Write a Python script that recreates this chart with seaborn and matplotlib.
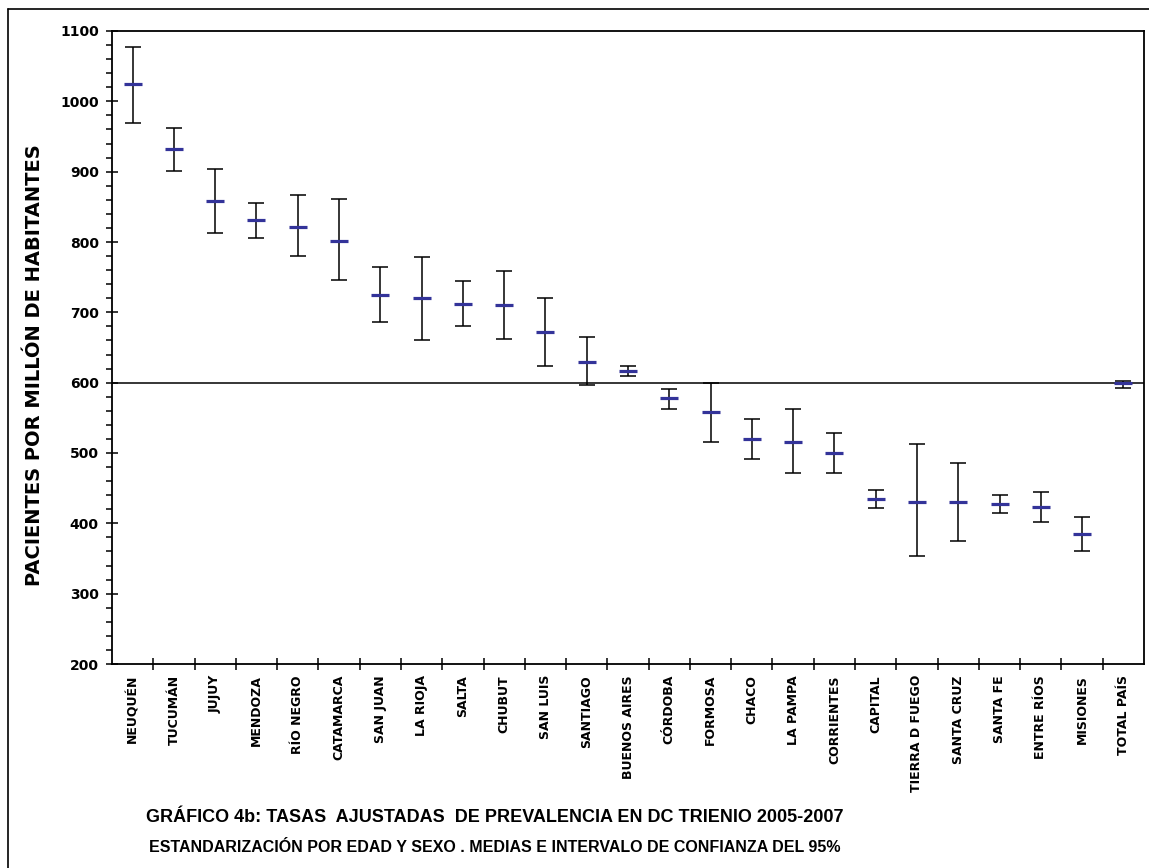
import matplotlib
matplotlib.use("Agg")
import matplotlib.pyplot as plt
from matplotlib.lines import Line2D
from matplotlib.ticker import MultipleLocator
import pandas as pd
import seaborn as sns

provinces = [
    "NEUQUÉN", "TUCUMÁN", "JUJUY", "MENDOZA", "RÍO NEGRO", "CATAMARCA",
    "SAN JUAN", "LA RIOJA", "SALTA", "CHUBUT", "SAN LUIS", "SANTIAGO",
    "BUENOS AIRES", "CÓRDOBA", "FORMOSA", "CHACO", "LA PAMPA", "CORRIENTES",
    "CAPITAL", "TIERRA D FUEGO", "SANTA CRUZ", "SANTA FE", "ENTRE RÍOS",
    "MISIONES", "TOTAL PAÍS",
]
rate_mean = [1024, 932, 858, 831, 822, 802, 725, 720, 712, 711, 672, 630,
             617, 578, 558, 520, 516, 500, 435, 430, 430, 428, 423, 385, 599]
ci_low = [969, 901, 813, 805, 780, 746, 686, 661, 681, 662, 624, 597,
          609, 562, 516, 492, 472, 472, 422, 353, 375, 415, 402, 361, 592]
ci_high = [1077, 962, 904, 855, 867, 861, 764, 778, 744, 759, 721, 665,
           624, 591, 600, 548, 562, 528, 447, 513, 486, 440, 444, 409, 602]
reference_rate = 600

df = pd.DataFrame({
    "provincia": provinces,
    "media": rate_mean,
    "inf": ci_low,
    "sup": ci_high,
})
df["pos"] = range(len(df))

sns.set_theme(style="white")
plt.rcParams["font.family"] = ["DejaVu Sans"]
for key in ["text.color", "axes.labelcolor", "xtick.color", "ytick.color"]:
    plt.rcParams[key] = "black"

fig = plt.figure(figsize=(11.49, 8.68), dpi=100)
ax = fig.add_axes([112 / 1149, 1 - 664 / 868, 1032 / 1149, 633 / 868])

# reference line (national mean)
ax.axhline(reference_rate, color="black", linewidth=1.1, zorder=1)

# confidence intervals
ax.errorbar(
    df["pos"], df["media"],
    yerr=[df["media"] - df["inf"], df["sup"] - df["media"]],
    fmt="none", ecolor="black", elinewidth=1.1, capsize=6, capthick=1.1,
    zorder=2,
)

# means
sns.scatterplot(
    data=df, x="pos", y="media", marker="_", s=185, linewidth=2.3,
    color="#333399", ax=ax, zorder=3, legend=False,
)

ax.set_xlim(-0.5, len(df) - 0.5)
ax.set_ylim(200, 1100)
ax.yaxis.set_major_locator(MultipleLocator(100))
ax.yaxis.set_minor_locator(MultipleLocator(20))
ax.set_xticks([p + 0.5 for p in df["pos"][:-1]])
ax.set_xticklabels([])
ax.set_xticks(df["pos"], minor=True)
ax.set_xticklabels(df["provincia"], minor=True, rotation=90, fontsize=9,
                   fontweight="bold", va="top")

ax.tick_params(axis="x", which="major", direction="inout", length=9, width=1.1,
               bottom=True)
ax.tick_params(axis="x", which="minor", length=0, pad=8)
ax.tick_params(axis="y", which="major", direction="inout", length=9, width=1.1,
               left=True, labelsize=10, pad=5)
ax.tick_params(axis="y", which="minor", direction="out", length=4, width=1.1,
               left=True)
for lbl in ax.get_yticklabels():
    lbl.set_fontweight("bold")

for side in ["left", "right", "top", "bottom"]:
    ax.spines[side].set_color("black")
    ax.spines[side].set_linewidth(1.3)

ax.set_xlabel("")
ax.set_ylabel("PACIENTES POR MILLÓN DE HABITANTES", fontsize=14,
              fontweight="bold")
ax.yaxis.set_label_coords((44 - 112) / 1032, (664 - 365) / 633)
ax.grid(False)

fig.text(495 / 1149, 1 - 818 / 868,
         "GRÁFICO 4b: TASAS  AJUSTADAS  DE PREVALENCIA EN DC TRIENIO 2005-2007",
         ha="center", va="center", fontsize=13, fontweight="bold",
         family="Liberation Sans")
fig.text(495 / 1149, 1 - 848 / 868,
         "ESTANDARIZACIÓN POR EDAD Y SEXO . MEDIAS E INTERVALO DE CONFIANZA DEL 95%",
         ha="center", va="center", fontsize=11.5, fontweight="bold",
         family="Liberation Sans")

# outer frame (left and top edges visible)
fig.add_artist(Line2D([8 / 1149, 8 / 1149], [0, 1 - 9 / 868], color="black",
                      linewidth=1.2, transform=fig.transFigure))
fig.add_artist(Line2D([8 / 1149, 1], [1 - 9 / 868, 1 - 9 / 868], color="black",
                      linewidth=1.2, transform=fig.transFigure))

fig.savefig("out.png", dpi=100)
